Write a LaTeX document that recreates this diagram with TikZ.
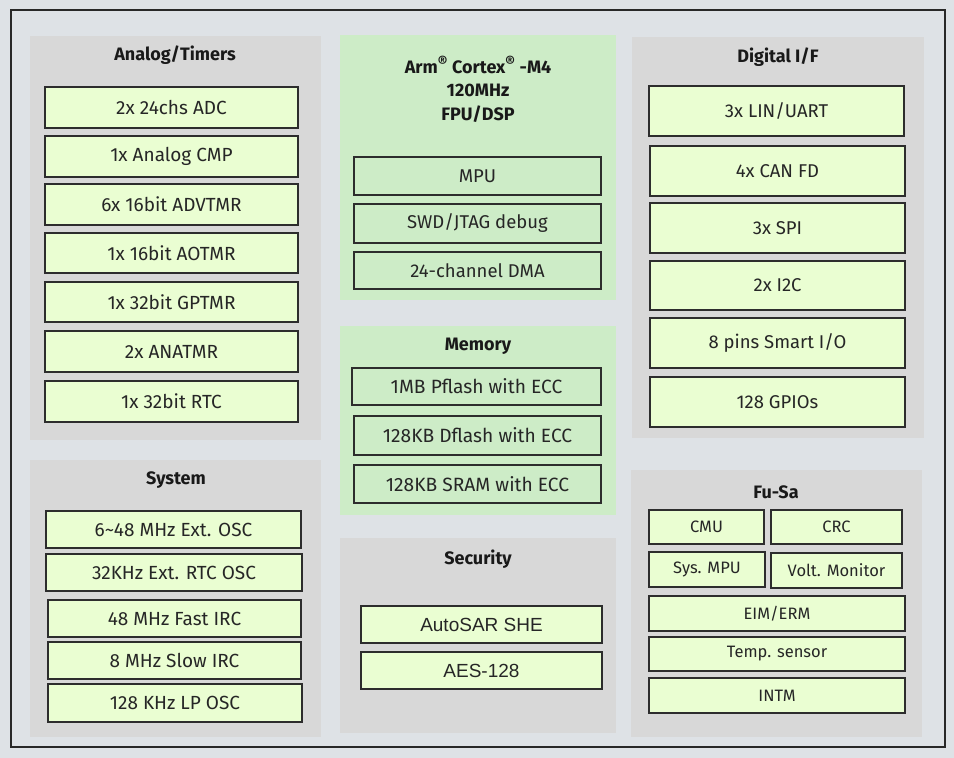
\documentclass[tikz,border=0pt]{standalone}
\usepackage{fontspec}
\setmainfont{Fira Sans}
\newfontfamily\arialfont{Liberation Sans}
\definecolor{bgc}{RGB}{222,226,230}
\definecolor{framec}{RGB}{40,40,40}
\definecolor{panelc}{RGB}{216,216,216}
\definecolor{cpuc}{RGB}{205,236,199}
\definecolor{boxc}{RGB}{234,254,210}
\definecolor{linec}{RGB}{45,45,45}
\tikzset{
  panel/.style={fill=panelc, draw=none},
  cpupanel/.style={fill=cpuc, draw=none},
  gbox/.style={draw=linec, line width=1.5pt, fill=boxc, font=\fontsize{19}{22}\selectfont, text=black!85},
  dbox/.style={gbox, font=\fontsize{18.5}{22}\selectfont},
  cbox/.style={gbox, fill=cpuc, font=\fontsize{18.5}{22}\selectfont},
  mbox/.style={cbox, font=\fontsize{19.2}{22}\selectfont},
  fbox/.style={gbox, font=\fontsize{16.5}{20}\selectfont},
  sbox/.style={gbox, font=\arialfont\fontsize{19}{22}\selectfont},
  ttl/.style={font=\fontsize{18}{21}\selectfont\bfseries, text=black!90},
}
\newcommand{\bx}[7]{\node[#7, inner sep=0pt, outer sep=0pt, minimum width={#4-#2}, minimum height={#5-#3}] (#1) at ({(#2+#4)/2},{(#3+#5)/2}) {#6};}
\begin{document}
\begin{tikzpicture}[x=1pt,y=-1pt]
\fill[bgc] (0,0) rectangle (954,758);
\useasboundingbox (0,0) rectangle (954,758);
\draw[framec, line width=2pt, fill=bgc] (11,10) rectangle (945,747);
% panels
\bx{pan}{30}{36}{321}{440}{}{panel}
\bx{psys}{30}{460}{321}{737}{}{panel}
\bx{pcpu}{340}{35}{616}{300}{}{cpupanel}
\bx{pmem}{340}{326}{616}{515}{}{cpupanel}
\bx{psec}{340}{538}{616}{733}{}{panel}
\bx{pdig}{632}{37}{924}{438}{}{panel}
\bx{pfs}{631}{470}{922}{737}{}{panel}
% titles
\node[ttl] (tan) at (175,55) {Analog/Timers};
\node[ttl] (tsys) at (176,480) {System};
\node[ttl, align=center, font=\fontsize{18}{23.5}\selectfont\bfseries] (tcpu) at (478,89) {Arm\textsuperscript{\fontsize{15}{15}\selectfont ®} Cortex\textsuperscript{\fontsize{15}{15}\selectfont ®} -M4\\120MHz\\FPU/DSP};
\node[ttl] (tmem) at (478,346) {Memory};
\node[ttl] (tsec) at (478,559) {Security};
\node[ttl] (tdig) at (778,57) {Digital I/F};
\node[ttl] (tfs) at (776,492) {Fu-Sa};
% Analog/Timers
\bx{a1}{45}{87}{298}{128}{2x 24chs ADC}{gbox}
\bx{a2}{45}{136}{298}{177}{1x Analog CMP}{gbox}
\bx{a3}{45}{184}{298}{225}{6x 16bit ADVTMR}{gbox}
\bx{a4}{45}{233}{298}{273}{1x 16bit AOTMR}{gbox}
\bx{a5}{45}{282}{298}{322}{1x 32bit GPTMR}{gbox}
\bx{a6}{45}{331}{298}{372}{2x ANATMR}{gbox}
\bx{a7}{45}{381}{298}{422}{1x 32bit RTC}{gbox}
% System
\bx{s1}{46}{511}{301}{548}{6\textasciitilde48 MHz Ext. OSC}{gbox}
\bx{s2}{46}{554}{302}{591}{32KHz Ext. RTC OSC}{gbox}
\bx{s3}{48}{600}{301}{637}{48 MHz Fast IRC}{gbox}
\bx{s4}{48}{642}{301}{679}{8 MHz Slow IRC}{gbox}
\bx{s5}{48}{684}{302}{722}{128 KHz LP OSC}{gbox}
% CPU
\bx{c1}{354}{157}{601}{195}{MPU}{cbox}
\bx{c2}{354}{204}{601}{243}{SWD/JTAG debug}{cbox}
\bx{c3}{354}{252}{601}{289}{24-channel DMA}{cbox}
% Memory
\bx{m1}{352}{368}{601}{405}{1MB Pflash with ECC}{mbox}
\bx{m2}{354}{416}{601}{455}{128KB Dflash with ECC}{mbox}
\bx{m3}{354}{465}{601}{503}{128KB SRAM with ECC}{mbox}
% Security
\bx{e1}{361}{606}{602}{643}{AutoSAR SHE}{sbox}
\bx{e2}{361}{652}{602}{689}{AES-128}{sbox}
% Digital I/F
\bx{d1}{649}{86}{904}{136}{3x LIN/UART}{dbox}
\bx{d2}{650}{146}{905}{196}{4x CAN FD}{dbox}
\bx{d3}{650}{203}{905}{253}{3x SPI}{dbox}
\bx{d4}{650}{261}{905}{310}{2x I2C}{dbox}
\bx{d5}{650}{318}{905}{368}{8 pins Smart I/O}{dbox}
\bx{d6}{650}{377}{905}{427}{128 GPIOs}{dbox}
% Fu-Sa
\bx{f1}{649}{510}{764}{544}{CMU}{fbox}
\bx{f2}{771}{510}{902}{544}{CRC}{fbox}
\bx{f3}{649}{552}{765}{587}{Sys. MPU}{fbox}
\bx{f4}{771}{553}{902}{588}{Volt. Monitor}{fbox}
\bx{f5}{649}{596}{905}{631}{EIM/ERM}{fbox}
\bx{f6}{649}{637}{905}{671}{Temp. sensor}{fbox}
\bx{f7}{649}{678}{905}{713}{INTM}{fbox}
\end{tikzpicture}
\end{document}
